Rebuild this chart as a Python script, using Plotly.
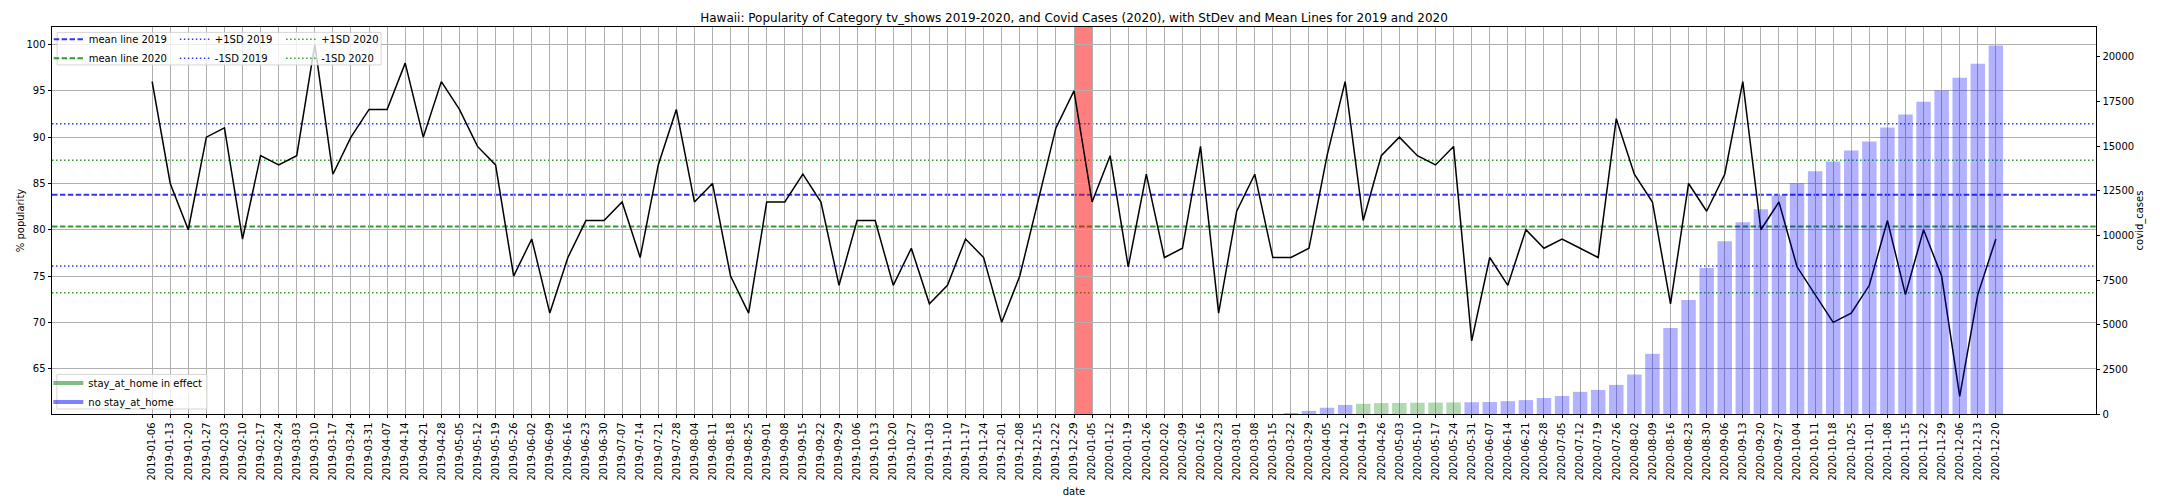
import numpy as np
import pandas as pd
import plotly.graph_objects as go

# weekly categories
dates_2019 = pd.date_range("2019-01-06", "2019-12-29", freq="W-SUN").strftime("%Y-%m-%d").tolist()
dates_2020 = pd.date_range("2020-01-05", "2020-12-20", freq="W-SUN").strftime("%Y-%m-%d").tolist()
dates = dates_2019 + dates_2020

# % popularity of tv_shows
pop_2019 = [96, 85, 80, 90, 91, 79, 88, 87, 88, 100,
            86, 90, 93, 93, 98, 90, 96, 93, 89, 87,
            75, 79, 71, 77, 81, 81, 83, 77, 87, 93,
            83, 85, 75, 71, 83, 83, 86, 83, 74, 81,
            81, 74, 78, 72, 74, 79, 77, 70, 75, 83,
            91, 95]
pop_2020 = [83, 88, 76, 86, 77, 78, 89, 71, 82, 86,
            77, 77, 78, 88, 96, 81, 88, 90, 88, 87,
            89, 68, 77, 74, 80, 78, 79, 78, 77, 92,
            86, 83, 72, 85, 82, 86, 96, 80, 83, 76,
            73, 70, 71, 74, 81, 73, 80, 75, 62, 73,
            79]

# cumulative covid cases 2020 (right axis)
covid_2020 = [0, 0, 0, 0, 0, 0, 0, 0, 0, 0,
              0, 56, 175, 350, 510, 570, 610, 620, 630, 640,
              650, 660, 670, 720, 780, 900, 1010, 1240, 1350, 1630,
              2210, 3370, 4820, 6380, 8170, 9680, 10740, 11460, 12230, 12920,
              13590, 14140, 14760, 15260, 16040, 16770, 17490, 18110, 18830, 19620,
              20640]
stay_at_home = [0] * 15 + [1] * 6 + [0] * 30

FONT = "DejaVu Sans"
BLUE = "rgba(0,0,255,0.8)"
GREEN = "rgba(0,128,0,0.8)"
DASH = "5.5px,2.4px"
DOT = "1.5px,2.5px"

m19, s19 = np.mean(pop_2019), np.std(pop_2019, ddof=1)
m20, s20 = np.mean(pop_2020), np.std(pop_2020, ddof=1)

fig = go.Figure()

fig.add_trace(go.Scatter(x=dates, y=pop_2019 + pop_2020, mode="lines",
                         line=dict(color="black", width=1.5), showlegend=False))

bar_colors = ["rgba(0,128,0,0.3)" if s else "rgba(0,0,255,0.3)" for s in stay_at_home]
fig.add_trace(go.Bar(x=dates_2020, y=covid_2020, yaxis="y2", width=0.8,
                     marker=dict(color=bar_colors, line=dict(width=0)), showlegend=False))

# horizontal mean / sd lines
hlines = [
    ("mean line 2019", m19, BLUE, DASH, 2, "legend"),
    ("mean line 2020", m20, GREEN, DASH, 2, "legend"),
    ("+1SD 2019", m19 + s19, BLUE, DOT, 1.5, "legend2"),
    ("-1SD 2019", m19 - s19, BLUE, DOT, 1.5, "legend2"),
    ("+1SD 2020", m20 + s20, GREEN, DOT, 1.5, "legend3"),
    ("-1SD 2020", m20 - s20, GREEN, DOT, 1.5, "legend3"),
]
for name, yv, col, dash, w, leg in hlines:
    fig.add_shape(type="line", xref="paper", x0=0, x1=1, yref="y", y0=yv, y1=yv,
                  line=dict(color=col, width=w, dash=dash), layer="below")
    fig.add_trace(go.Scatter(x=[None], y=[None], mode="lines", name=name, legend=leg,
                             line=dict(color=col, width=w, dash=dash)))

fig.add_trace(go.Scatter(x=[None], y=[None], mode="lines", name="stay_at_home in effect",
                         legend="legend4", line=dict(color="rgba(0,128,0,0.5)", width=4)))
fig.add_trace(go.Scatter(x=[None], y=[None], mode="lines", name="no stay_at_home",
                         legend="legend4", line=dict(color="rgba(0,0,255,0.5)", width=4)))

# red span at the turn of the year
fig.add_shape(type="rect", xref="x", x0="2019-12-29", x1="2020-01-05", yref="paper", y0=0, y1=1,
              fillcolor="rgba(255,0,0,0.5)", line=dict(width=0), layer="below")

# legend frames
for x0, x1, y0, y1 in [(0.0025, 0.161, 0.902, 0.986), (0.0024, 0.0758, 0.013, 0.102)]:
    fig.add_shape(type="rect", xref="paper", yref="paper", x0=x0, x1=x1, y0=y0, y1=y1,
                  fillcolor="rgba(255,255,255,0.8)", line=dict(color="rgba(204,204,204,0.8)", width=1),
                  layer="above")

leg_style = dict(bgcolor="rgba(0,0,0,0)", borderwidth=0, font=dict(family=FONT, size=10, color="black"),
                 yanchor="top", xanchor="left")
ax_style = dict(showline=True, linecolor="black", linewidth=0.8, ticks="outside", ticklen=3.5,
                tickcolor="black", tickfont=dict(family=FONT, size=10, color="black"),
                zeroline=False, automargin=False)

# page body has an 8px margin, so the figure is 8px smaller on each side
W, H = 2152, 496

fig.update_layout(
    width=W, height=H,
    margin=dict(l=43.5, r=64.3, t=19.3, b=89.7),
    paper_bgcolor="white", plot_bgcolor="white",
    font=dict(family=FONT, size=10, color="black"),
    title=dict(text="Hawaii: Popularity of Category tv_shows 2019-2020, and Covid Cases (2020), "
                    "with StDev and Mean Lines for 2019 and 2020",
               x=0.5, xref="paper", y=1 - 9.5 / H, yref="container", yanchor="middle",
               font=dict(family=FONT, size=12, color="black")),
    barmode="overlay",
    xaxis=dict(type="category", categoryorder="array", categoryarray=dates,
               range=[-5.54, 107.54], tickangle=-90, mirror=True,
               showgrid=True, gridcolor="#b0b0b0", gridwidth=0.8,
               title=dict(text="date", standoff=8, font=dict(size=10)), **ax_style),
    yaxis=dict(range=[60.1, 101.9], tickvals=[65, 70, 75, 80, 85, 90, 95, 100], mirror=True,
               showgrid=True, gridcolor="#b0b0b0", gridwidth=0.8,
               title=dict(text="% popularity", standoff=0, font=dict(size=10)), **ax_style),
    yaxis2=dict(overlaying="y", side="right", range=[0, 21672], tick0=0, dtick=2500,
                tickformat="d", showgrid=False,
                title=dict(text="covid_cases", standoff=2, font=dict(size=10)), **ax_style),
    legend=dict(x=-0.0016, y=1.006, **leg_style),
    legend2=dict(x=0.0601, y=1.006, **leg_style),
    legend3=dict(x=0.1121, y=1.006, **leg_style),
    legend4=dict(x=-0.0018, y=0.1178, **leg_style),
)

fig.write_html("out.html")
